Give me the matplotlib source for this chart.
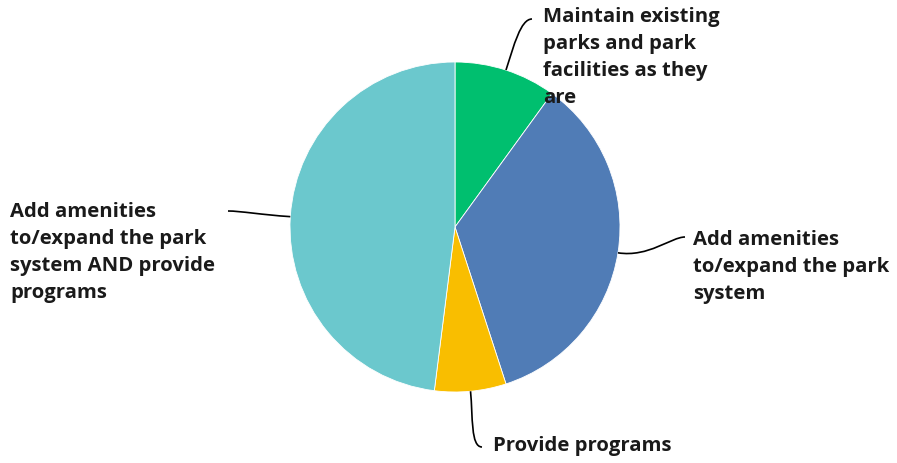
import numpy as np
import matplotlib
matplotlib.use("Agg")
import matplotlib.pyplot as plt
from matplotlib.path import Path
from matplotlib.patches import PathPatch

# shares of responses, clockwise from 12 o'clock
labels = ["Maintain existing\nparks and park\nfacilities as they\nare",
          "Add amenities\nto/expand the park\nsystem",
          "Provide programs",
          "Add amenities\nto/expand the park\nsystem AND provide\nprograms"]
values = [10, 35, 7, 48]
colors = ["#00BF6F", "#507CB6", "#F9BE00", "#6BC8CD"]

W, H = 897, 464
fig = plt.figure(figsize=(W / 100, H / 100), dpi=100)
ax = fig.add_axes([0, 0, 1, 1])

cx, cy, r = 455, H - 228, 165
wedges, _ = ax.pie(values, colors=colors, startangle=90, counterclock=False,
                   center=(cx, cy), radius=r,
                   wedgeprops=dict(edgecolor="white", linewidth=0.6))
ax.set_xlim(0, W)
ax.set_ylim(0, H)
ax.set_aspect("equal")
ax.axis("off")

# where each label text begins (left x, first line centre y), in pixels
text_pos = [(543, 18), (693, 241), (493, 447), (10, 213)]
# where each leader line ends
line_end = [(532, 20), (685, 238), (482, 448), (228, 212)]

for w, lab, (tx, ty), (lx, ly) in zip(wedges, labels, text_pos, line_end):
    ang = np.deg2rad((w.theta1 + w.theta2) / 2)
    d0 = np.array([np.cos(ang), np.sin(ang)])
    p0 = np.array([cx, cy]) + r * d0
    p3 = np.array([lx, H - ly])
    side = 1 if p3[0] > p0[0] else -1
    L = np.hypot(*(p3 - p0))
    c1 = p0 + d0 * L * 0.45
    c2 = p3 - np.array([side * L * 0.2, 0])
    path = Path([p0, c1, c2, p3],
                [Path.MOVETO, Path.CURVE4, Path.CURVE4, Path.CURVE4])
    ax.add_patch(PathPatch(path, fill=False, color="black", lw=1.2))
    ax.text(tx, H - ty + 11, lab, ha="left", va="top", fontsize=14.6,
            family="Open Sans", weight="bold", color="#1a1a1a",
            linespacing=1.47)

fig.savefig("out.png", dpi=100)
